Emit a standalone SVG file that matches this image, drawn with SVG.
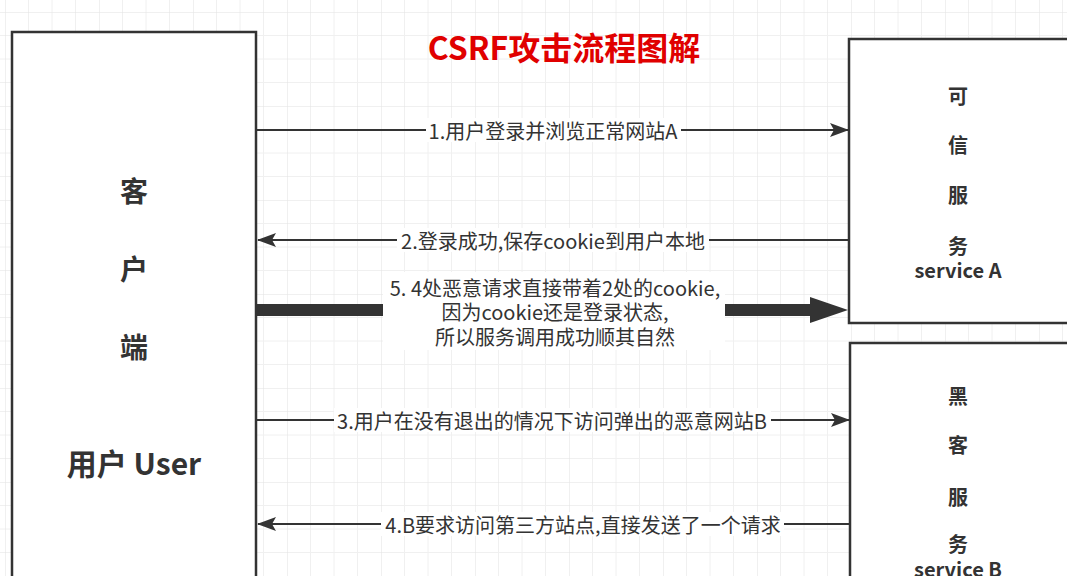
<svg xmlns="http://www.w3.org/2000/svg" width="1067" height="576" viewBox="0 0 1067 576">
  <defs>
    <pattern id="grid" x="5" y="12" width="94" height="94" patternUnits="userSpaceOnUse">
      <path d="M23.5 0V94M47 0V94M70.5 0V94M0 23.5H94M0 47H94M0 70.5H94" fill="none" stroke="#f0f0f0" stroke-width="1"/>
      <path d="M0 0V94M0 0H94" fill="none" stroke="#e2e2e2" stroke-width="1"/>
    </pattern>
    <marker id="arr" markerUnits="userSpaceOnUse" markerWidth="20" markerHeight="14" refX="18" refY="7" orient="auto">
      <path d="M0,0 L19,7 L0,14 L4,7 Z" fill="#333"/>
    </marker>
  </defs>
  <style>
    .box { fill: #fff; stroke: #333; stroke-width: 2.5; }
    .ln { fill: none; stroke: #333; stroke-width: 2; }
    .lbl { font-family: "Noto Sans CJK SC", "Noto Sans", sans-serif; font-size: 20px; fill: #333; text-anchor: middle; dominant-baseline: central; }
    .bg { fill: #fff; }
    .nt { font-family: "Noto Sans CJK SC", "Noto Sans", sans-serif; font-weight: bold; fill: #333; text-anchor: middle; dominant-baseline: central; }
  </style>
  <rect width="1067" height="576" fill="#fff"/>
  <rect width="1067" height="576" fill="url(#grid)"/>

  <text x="564" y="46" font-family="'Noto Sans CJK SC', 'Noto Sans', sans-serif" font-weight="bold" font-size="32" fill="#e00000" text-anchor="middle" dominant-baseline="central">CSRF攻击流程图解</text>

  <g id="client">
    <rect class="box" x="12" y="32" width="244" height="580"/>
    <text class="nt" x="134" y="190" font-size="28">客</text>
    <text class="nt" x="134" y="268" font-size="28">户</text>
    <text class="nt" x="134" y="346" font-size="28">端</text>
    <text class="nt" x="134" y="462" font-size="30">用户 User</text>
  </g>

  <g id="serviceA">
    <rect class="box" x="849" y="39" width="230" height="284"/>
    <text class="nt" x="958" y="95" font-size="20">可</text>
    <text class="nt" x="958" y="144" font-size="20">信</text>
    <text class="nt" x="958" y="194" font-size="20">服</text>
    <text class="nt" x="958" y="245" font-size="20">务</text>
    <text class="nt" x="958" y="269" font-size="20">service A</text>
  </g>

  <g id="serviceB">
    <rect class="box" x="850" y="343" width="230" height="260"/>
    <text class="nt" x="958" y="395" font-size="20">黑</text>
    <text class="nt" x="958" y="444" font-size="20">客</text>
    <text class="nt" x="958" y="496" font-size="20">服</text>
    <text class="nt" x="958" y="543" font-size="20">务</text>
    <text class="nt" x="958" y="568" font-size="20">service B</text>
  </g>

  <g id="connectors">
    <line class="ln" x1="257" y1="130" x2="848" y2="130" marker-end="url(#arr)"/>
    <rect class="bg" x="426" y="118" width="255" height="24"/>
    <text class="lbl" x="553" y="130">1.用户登录并浏览正常网站A</text>

    <line class="ln" x1="848" y1="240" x2="258" y2="240" marker-end="url(#arr)"/>
    <rect class="bg" x="397" y="228" width="312" height="24"/>
    <text class="lbl" x="553" y="240">2.登录成功,保存cookie到用户本地</text>

    <line x1="257" y1="310" x2="383" y2="310" stroke="#333" stroke-width="12"/>
    <line x1="725" y1="310" x2="812" y2="310" stroke="#333" stroke-width="12"/>
    <polygon points="810,297 848,310 810,323" fill="#333"/>
    <rect class="bg" x="383" y="272" width="342" height="78"/>
    <text class="lbl" x="555" y="287">5. 4处恶意请求直接带着2处的cookie,</text>
    <text class="lbl" x="555" y="311">因为cookie还是登录状态,</text>
    <text class="lbl" x="555" y="336">所以服务调用成功顺其自然</text>

    <line class="ln" x1="257" y1="420" x2="849" y2="420" marker-end="url(#arr)"/>
    <rect class="bg" x="334" y="408" width="437" height="24"/>
    <text class="lbl" x="552" y="420">3.用户在没有退出的情况下访问弹出的恶意网站B</text>

    <line class="ln" x1="849" y1="524" x2="258" y2="524" marker-end="url(#arr)"/>
    <rect class="bg" x="381" y="512" width="403" height="24"/>
    <text class="lbl" x="583" y="524">4.B要求访问第三方站点,直接发送了一个请求</text>
  </g>
</svg>
